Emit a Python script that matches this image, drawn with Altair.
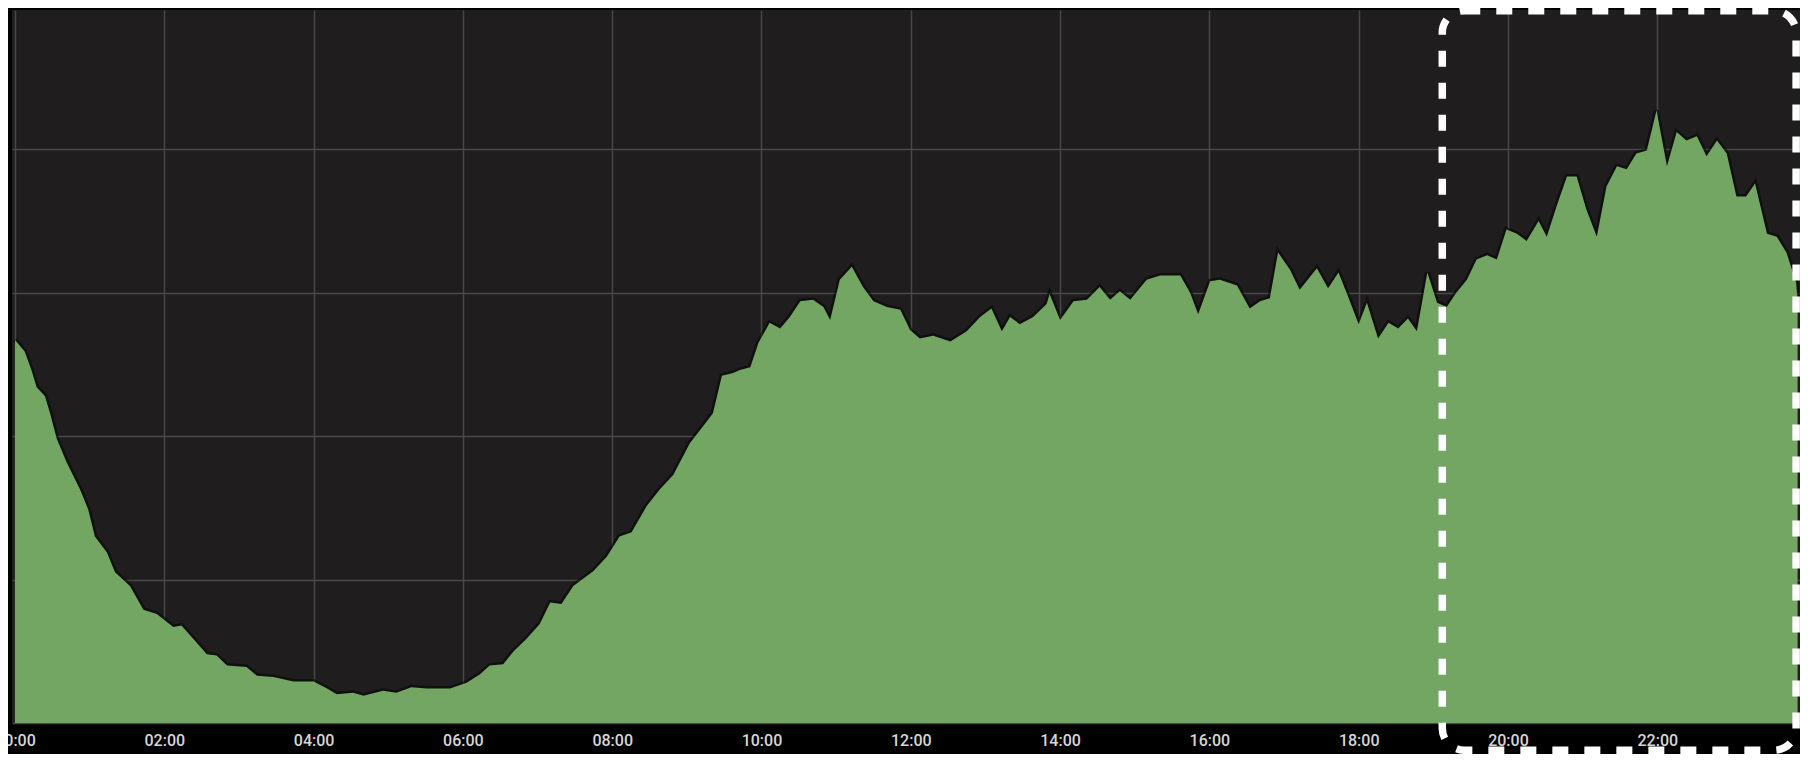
import altair as alt
import pandas as pd

# Time of day in hours (x) and level (y, one grid step = 1)
hours = [
    0.00, 0.13, 0.22, 0.29, 0.40, 0.47, 0.56, 0.69, 0.87, 0.98,
    1.07, 1.23, 1.34, 1.54, 1.72, 1.90, 2.12, 2.23, 2.39, 2.57,
    2.70, 2.84, 3.10, 3.24, 3.46, 3.73, 4.00, 4.18, 4.31, 4.53,
    4.67, 4.93, 5.11, 5.31, 5.51, 5.83, 6.05, 6.23, 6.36, 6.54,
    6.68, 6.85, 7.03, 7.17, 7.32, 7.48, 7.75, 7.93, 8.10, 8.26,
    8.46, 8.64, 8.82, 9.04, 9.22, 9.35, 9.47, 9.62, 9.71, 9.85,
    9.96, 10.11, 10.25, 10.38, 10.52, 10.69, 10.83, 10.92, 11.05, 11.21,
    11.36, 11.50, 11.68, 11.86, 11.99, 12.12, 12.30, 12.53, 12.75, 12.93,
    13.08, 13.22, 13.33, 13.46, 13.64, 13.82, 13.86, 14.00, 14.18, 14.36,
    14.53, 14.67, 14.80, 14.94, 15.16, 15.34, 15.61, 15.74, 15.85, 16.01,
    16.14, 16.37, 16.54, 16.68, 16.81, 16.92, 17.08, 17.21, 17.44, 17.59,
    17.73, 17.86, 18.00, 18.11, 18.26, 18.40, 18.53, 18.66, 18.78, 18.92,
    19.05, 19.18, 19.31, 19.45, 19.58, 19.72, 19.85, 19.98, 20.12, 20.25,
    20.41, 20.52, 20.65, 20.79, 20.92, 21.05, 21.19, 21.32, 21.46, 21.59,
    21.72, 21.86, 21.99, 22.13, 22.26, 22.39, 22.53, 22.66, 22.80, 22.93,
    23.06, 23.19, 23.31, 23.47, 23.60, 23.73, 23.86, 23.88,
]
values = [
    2.67, 2.59, 2.46, 2.34, 2.28, 2.16, 1.98, 1.82, 1.63, 1.49,
    1.30, 1.19, 1.05, 0.955, 0.79, 0.76, 0.67, 0.68, 0.585, 0.48,
    0.47, 0.40, 0.39, 0.33, 0.32, 0.29, 0.29, 0.24, 0.20, 0.21,
    0.19, 0.225, 0.21, 0.25, 0.24, 0.24, 0.28, 0.34, 0.40, 0.41,
    0.50, 0.585, 0.69, 0.84, 0.83, 0.955, 1.06, 1.16, 1.30, 1.33,
    1.51, 1.63, 1.73, 1.95, 2.07, 2.16, 2.42, 2.44, 2.46, 2.48,
    2.65, 2.79, 2.75, 2.83, 2.94, 2.95, 2.90, 2.81, 3.09, 3.18,
    3.04, 2.94, 2.90, 2.88, 2.74, 2.68, 2.70, 2.66, 2.73, 2.83,
    2.89, 2.73, 2.83, 2.78, 2.83, 2.92, 2.99, 2.81, 2.94, 2.95,
    3.04, 2.95, 3.01, 2.95, 3.09, 3.12, 3.12, 3.00, 2.85, 3.08,
    3.09, 3.05, 2.89, 2.94, 2.96, 3.28, 3.16, 3.02, 3.17, 3.03,
    3.14, 2.97, 2.78, 2.93, 2.68, 2.79, 2.75, 2.82, 2.73, 3.14,
    2.93, 2.90, 3.00, 3.09, 3.23, 3.26, 3.23, 3.44, 3.41, 3.36,
    3.50, 3.39, 3.60, 3.81, 3.81, 3.58, 3.39, 3.74, 3.88, 3.86,
    3.97, 3.99, 4.27, 3.88, 4.12, 4.06, 4.09, 3.95, 4.06, 3.97,
    3.67, 3.67, 3.76, 3.41, 3.39, 3.28, 3.07, 2.95,
]
tick_hours = [0, 2, 4, 6, 8, 10, 12, 14, 16, 18, 20, 22]
grid_levels = [0, 1, 2, 3, 4]

# Highlighted evening window (dashed box), in data units
box_start = [19.12]
box_end = [23.86]
box_top = [4.965]
box_bottom = [-0.19]

df = pd.DataFrame({"hour": hours, "value": values})
box_df = pd.DataFrame({"x0": box_start, "x1": box_end, "y0": box_top, "y1": box_bottom})

xscale = alt.Scale(domain=[-0.04, 23.912], nice=False, zero=False)
yscale = alt.Scale(domain=[0, 4.97], nice=False, zero=False)

xaxis = alt.Axis(
    values=tick_hours,
    labelExpr="(datum.value < 10 ? '0' : '') + datum.value + ':00'",
    grid=True,
    domain=False,
    ticks=False,
    labelFlush=False,
    labelOverlap=False,
    labelColor="#d6d6d6",
    labelFont="Roboto",
    labelFontSize=16,
    labelFontWeight=500,
    labelPadding=9,
    title=None,
)
yaxis = alt.Axis(values=grid_levels, labels=False, ticks=False, domain=False, grid=True, title=None)

base = alt.Chart(df).encode(
    x=alt.X("hour:Q", scale=xscale, axis=xaxis),
    y=alt.Y("value:Q", scale=yscale, axis=yaxis),
)

halo = base.mark_line(color="#050505", strokeWidth=5, opacity=0.55, interpolate="linear")
area = base.mark_area(color="#74a663", opacity=1, interpolate="linear")

box = alt.Chart(box_df).mark_rect(
    fillOpacity=0,
    stroke="#ffffff",
    strokeWidth=7.5,
    strokeDash=[16, 16],
    cornerRadius=22,
    clip=False,
).encode(
    x=alt.X("x0:Q", scale=xscale, axis=xaxis),
    x2="x1:Q",
    y=alt.Y("y0:Q", scale=yscale, axis=yaxis),
    y2="y1:Q",
)

chart = (
    alt.layer(halo, area, box)
    .properties(
        width=1788,
        height=713,
        padding={"left": 4, "top": 2, "right": 0, "bottom": 31},
        autosize=alt.AutoSizeParams(type="none"),
    )
    .configure(background="#000000")
    .configure_view(fill="#201d1e", strokeWidth=0)
    .configure_axis(gridColor="#4a4748", gridWidth=1.5, gridOpacity=1)
)

chart.save("out.html", embed_options={"renderer": "svg", "actions": False})
